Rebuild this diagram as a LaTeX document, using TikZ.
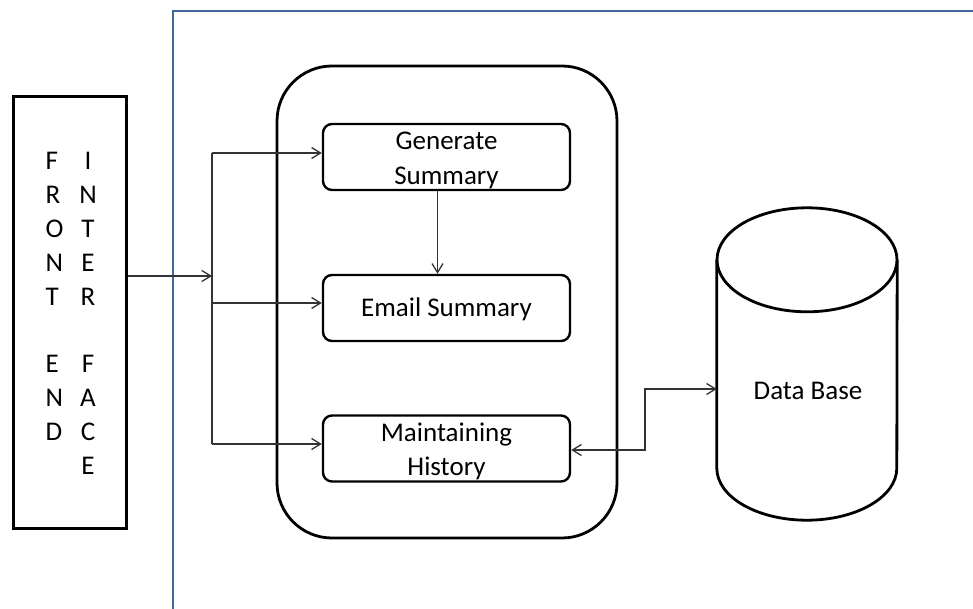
\documentclass[tikz,border=0pt]{standalone}
\usepackage{fontspec}
\setmainfont{Carlito}
\usetikzlibrary{arrows.meta}
\definecolor{frameblue}{RGB}{66,103,153}
\begin{document}
\begin{tikzpicture}[x=1pt,y=-1pt,
  txt/.style={font=\fontsize{27}{34.5}\selectfont, text=black},
  block/.style={draw, line width=2.4pt, rounded corners=9pt, minimum width=247pt,
    minimum height=66pt, inner sep=0pt, align=center, txt},
  conn/.style={line width=1.3pt, draw=black!80},
  tip/.style={-{Straight Barb[length=9pt,width=11pt]}},
  bothtips/.style={{Straight Barb[length=9pt,width=11pt]}-{Straight Barb[length=9pt,width=11pt]}},
  letterL/.style={txt, anchor=base west, inner sep=0pt},
  letterR/.style={txt, anchor=base, inner sep=0pt},
  cyl/.style={line width=2.8pt},
]
\useasboundingbox (0,0) rectangle (973,609);

% system boundary (open to the right and bottom)
\draw[line width=2.5pt, draw=frameblue] (173,625) -- (173,11) -- (990,11);

% front end interface
\node[draw, line width=3pt, minimum width=113pt, minimum height=431pt, inner sep=0pt] (fe) at (69.5,312.5) {};
\foreach \c [count=\i from 0] in {F,R,O,N,T,{},E,N,D}
  \node[letterL] (fl\i) at (45.5,170+33.8*\i) {\c};
\foreach \c [count=\i from 0] in {I,N,T,E,R,{},F,A,C,E}
  \node[letterR] (fr\i) at (88,170+33.8*\i) {\c};

% processing module
\node[draw, line width=2.8pt, rounded corners=55pt, minimum width=340pt, minimum height=472pt, inner sep=0pt] (sys) at (447,302) {};
\node[block] (gen) at (446.5,157) {\strut Generate\\Summary};
\node[block] (email) at (446.5,308) {\rule[-8pt]{0pt}{32pt}Email Summary};
\node[block] (hist) at (446.5,448.5) {\strut Maintaining\\History};

% database cylinder
\node[minimum width=180pt, minimum height=312pt, inner sep=0pt] (db) at (807,364) {};
\draw[cyl] ([yshift=-52pt]db.north west) -- ([yshift=52pt]db.south west)
  arc[start angle=180, end angle=360, x radius=90pt, y radius=52pt]
  -- ([yshift=-52pt]db.north east);
\draw[cyl] ([yshift=-52pt]db.north) ellipse [x radius=90pt, y radius=52pt];
\node[txt, anchor=base] (dbtext) at (808,399) {Data Base};

% connectors
\coordinate (split) at (212,276);
\coordinate (b1) at (212,153);
\coordinate (b2) at (212,303);
\coordinate (b3) at (212,444);
\coordinate (elbow) at (645,389);
\draw[conn, tip] (fe.east |- split) -- (split);
\draw[conn] (b1) -- (b3);
\draw[conn, tip] (b1) -- (b1 -| gen.west);
\draw[conn, tip] (b2) -- (b2 -| email.west);
\draw[conn, tip] (b3) -- (b3 -| hist.west);
\draw[conn, tip] ([xshift=-9pt]gen.south) -- ([xshift=-9pt]email.north);
\draw[conn, bothtips] ([yshift=-1.5pt]hist.east) -| (elbow) -- (elbow -| db.west);
\end{tikzpicture}
\end{document}
